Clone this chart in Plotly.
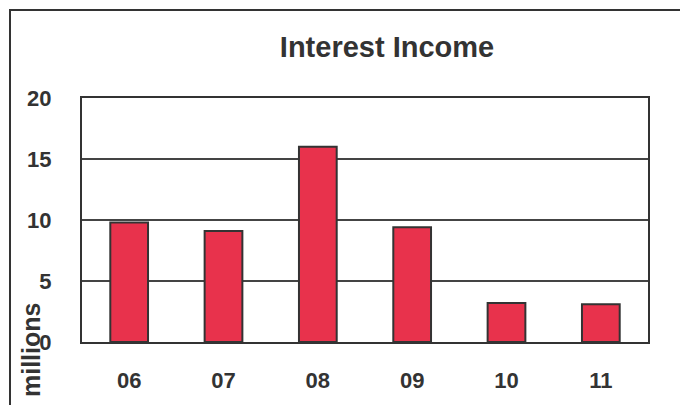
import plotly.graph_objects as go

# Interest income by year (millions)
years = ["06", "07", "08", "09", "10", "11"]
income = [9.8, 9.1, 16.0, 9.4, 3.2, 3.1]

# plot area in pixels (page is 680 x 405)
W, H = 680, 405
L, R, T, B = 82, 648, 98, 342


def px_x(p):
    return (p - L) / (R - L)


def px_y(p):
    return (B - p) / (B - T)


dark = "#333333"
font_main = "Liberation Sans, Arial, sans-serif"

fig = go.Figure(
    data=[
        go.Bar(
            x=years,
            y=income,
            marker_color="#e8324c",
            marker_line_color=dark,
            marker_line_width=2,
        )
    ]
)

fig.update_layout(
    width=W,
    height=H,
    margin=dict(l=L, r=W - R, t=T, b=H - B),
    paper_bgcolor="white",
    plot_bgcolor="white",
    showlegend=False,
    bargap=0.6,
    font=dict(family=font_main, color=dark),
    title=dict(
        text="<b>Interest Income</b>",
        font=dict(size=29, color=dark),
        xref="paper",
        x=px_x(387),
        xanchor="center",
        yref="container",
        y=1 - 47 / H,
        yanchor="middle",
        automargin=False,
    ),
    xaxis=dict(
        showline=True,
        linecolor=dark,
        linewidth=2,
        mirror=True,
        ticks="",
        tickfont=dict(size=22, color=dark, weight="bold"),
        ticklabelstandoff=18,
        automargin=False,
    ),
    yaxis=dict(
        range=[0, 20],
        dtick=5,
        showline=True,
        linecolor=dark,
        linewidth=2,
        mirror=True,
        showgrid=True,
        gridcolor="#444444",
        gridwidth=2,
        zeroline=False,
        ticks="",
        tickfont=dict(size=22, color=dark, weight="bold"),
        ticklabelstandoff=24,
        automargin=False,
    ),
)

# y axis unit label
fig.add_annotation(
    text="<b>millions</b>",
    textangle=-90,
    xref="paper",
    yref="paper",
    x=px_x(31),
    y=px_y(350),
    xanchor="center",
    yanchor="middle",
    showarrow=False,
    font=dict(size=25, color=dark),
)

# outer frame of the chart
fig.add_shape(
    type="rect",
    xref="paper",
    yref="paper",
    x0=px_x(10),
    x1=px_x(700),
    y0=px_y(420),
    y1=px_y(10),
    line=dict(color=dark, width=2),
    layer="below",
)

# drop the page's default body margin so the chart sits at the window corner
fig.write_html(
    "out.html",
    config={"displayModeBar": False},
    post_script="document.body.style.margin='0';",
)
